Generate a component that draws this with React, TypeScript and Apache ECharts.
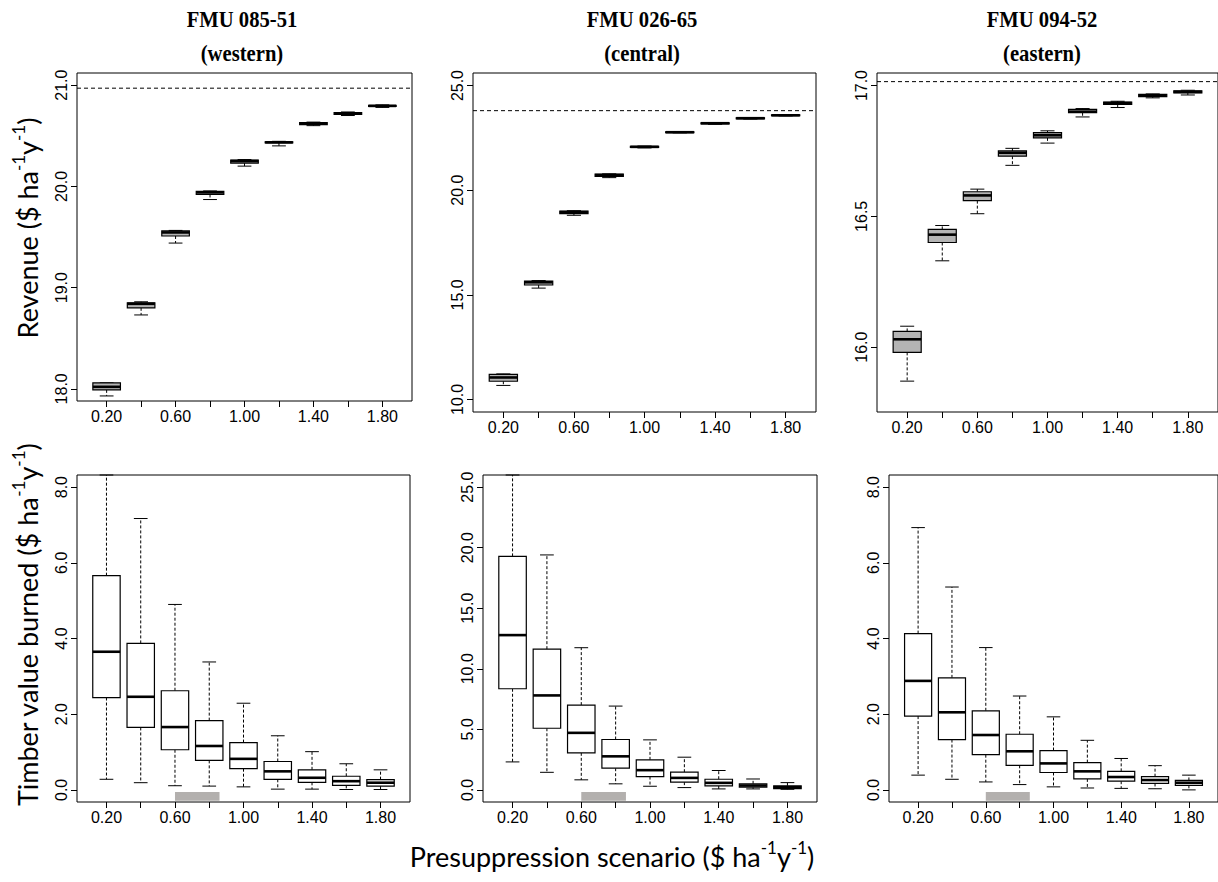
import React, { useEffect, useRef } from "react";
import * as echarts from "echarts";

// Presuppression scenarios ($ ha-1 y-1)
const scenarios = [0.2, 0.4, 0.6, 0.8, 1.0, 1.2, 1.4, 1.6, 1.8];
const xTickLabels = [0.2, 0.6, 1.0, 1.4, 1.8];

const columnTitles = ["FMU 085-51", "FMU 026-65", "FMU 094-52"];
const columnSubtitles = ["(western)", "(central)", "(eastern)"];

// Each row: [lower whisker, Q1, median, Q3, upper whisker]
const revenueWestern = [
  [17.93, 17.99, 18.02, 18.06, 18.06],
  [18.73, 18.8, 18.84, 18.85, 18.86],
  [19.44, 19.51, 19.545, 19.56, 19.565],
  [19.87, 19.92, 19.94, 19.95, 19.955],
  [20.2, 20.23, 20.25, 20.26, 20.265],
  [20.4, 20.43, 20.435, 20.44, 20.445],
  [20.6, 20.61, 20.62, 20.63, 20.635],
  [20.7, 20.71, 20.72, 20.73, 20.735],
  [20.78, 20.79, 20.795, 20.8, 20.805],
];
const revenueCentral = [
  [10.67, 10.87, 11.05, 11.2, 11.22],
  [15.32, 15.47, 15.6, 15.66, 15.68],
  [18.8, 18.88, 18.95, 19.0, 19.02],
  [20.6, 20.66, 20.72, 20.77, 20.78],
  [22.02, 22.04, 22.07, 22.1, 22.11],
  [22.74, 22.75, 22.77, 22.79, 22.8],
  [23.15, 23.17, 23.2, 23.22, 23.23],
  [23.4, 23.41, 23.44, 23.46, 23.47],
  [23.55, 23.56, 23.58, 23.6, 23.61],
];
const revenueEastern = [
  [15.87, 15.98, 16.03, 16.06, 16.08],
  [16.33, 16.4, 16.43, 16.45, 16.465],
  [16.51, 16.56, 16.58, 16.594, 16.604],
  [16.695, 16.73, 16.743, 16.75, 16.76],
  [16.78, 16.8, 16.81, 16.82, 16.827],
  [16.88, 16.896, 16.9, 16.909, 16.912],
  [16.916, 16.928, 16.933, 16.937, 16.94],
  [16.953, 16.958, 16.962, 16.966, 16.968],
  [16.964, 16.972, 16.976, 16.98, 16.982],
];
const burnedWestern = [
  [0.28, 2.44, 3.65, 5.66, 8.32],
  [0.19, 1.65, 2.46, 3.87, 7.17],
  [0.11, 1.06, 1.66, 2.62, 4.9],
  [0.1, 0.78, 1.16, 1.83, 3.38],
  [0.08, 0.56, 0.82, 1.25, 2.29],
  [0.02, 0.28, 0.49, 0.75, 1.43],
  [0.02, 0.2, 0.32, 0.53, 1.01],
  [0.01, 0.12, 0.23, 0.36, 0.69],
  [0.01, 0.1, 0.19, 0.27, 0.53],
];
const burnedCentral = [
  [2.31, 8.35, 12.78, 19.28, 26.0],
  [1.45, 5.09, 7.8, 11.62, 19.4],
  [0.83, 3.06, 4.71, 7.0, 11.74],
  [0.5, 1.79, 2.77, 4.16, 6.92],
  [0.3, 1.1, 1.63, 2.48, 4.13],
  [0.19, 0.64, 0.99, 1.46, 2.7],
  [0.08, 0.33, 0.58, 0.88, 1.6],
  [0.08, 0.22, 0.36, 0.5, 0.9],
  [0.05, 0.11, 0.22, 0.33, 0.6],
];
const burnedEastern = [
  [0.39, 1.95, 2.88, 4.13, 6.93],
  [0.28, 1.33, 2.05, 2.96, 5.36],
  [0.21, 0.93, 1.45, 2.09, 3.76],
  [0.14, 0.65, 1.02, 1.47, 2.48],
  [0.08, 0.46, 0.7, 1.04, 1.93],
  [0.05, 0.29, 0.49, 0.72, 1.31],
  [0.04, 0.23, 0.34, 0.49, 0.83],
  [0.03, 0.17, 0.26, 0.35, 0.64],
  [0.0, 0.12, 0.19, 0.25, 0.39],
];

// dashed reference (maximum revenue) lines
const revenueRefLines = [20.97, 23.8, 17.015];
// grey band marking current presuppression range (x from, x to)
const currentRange = [0.6, 0.86];

const revenueTicks = [
  [18, 19, 20, 21],
  [10, 15, 20, 25],
  [16.0, 16.5, 17.0],
];
const burnedTicks = [
  [0, 2, 4, 6, 8],
  [0, 5, 10, 15, 20, 25],
  [0, 2, 4, 6, 8],
];
const revenueRanges = [
  [17.88, 21.12],
  [9.4, 25.6],
  [15.752, 17.048],
];
const burnedRanges = [
  [-0.32, 8.32],
  [-1.0, 26.0],
  [-0.32, 8.32],
];

const X_MIN = 0.028;
const X_MAX = 1.972;

const panelsLayout = [
  { left: 77, top: 73, width: 335, height: 328 },
  { left: 473, top: 73, width: 343, height: 339 },
  { left: 877, top: 73, width: 345, height: 339 },
  { left: 77, top: 475, width: 333, height: 327 },
  { left: 483, top: 475, width: 334, height: 327 },
  { left: 889, top: 475, width: 336, height: 327 },
];

const TICK_FONT = "Liberation Sans, Arial, sans-serif";
const TITLE_FONT = "Lato, 'Open Sans', sans-serif";

function makeBoxRenderer(fill: string) {
  return (params: any, api: any) => {
    const x = api.value(0);
    const lw = api.value(1);
    const q1 = api.value(2);
    const med = api.value(3);
    const q3 = api.value(4);
    const uw = api.value(5);
    const pLw = api.coord([x, lw]);
    const pQ1 = api.coord([x, q1]);
    const pMed = api.coord([x, med]);
    const pQ3 = api.coord([x, q3]);
    const pUw = api.coord([x, uw]);
    const boxW = api.size([0.16, 0])[0];
    const half = boxW / 2;
    const capHalf = half / 2;
    const cx = pMed[0];
    const dashed = { stroke: "#000", lineWidth: 1, lineDash: [3, 2] };
    const solid = { stroke: "#000", lineWidth: 1 };
    return {
      type: "group",
      children: [
        { type: "line", shape: { x1: cx, y1: pQ1[1], x2: cx, y2: pLw[1] }, style: dashed },
        { type: "line", shape: { x1: cx, y1: pQ3[1], x2: cx, y2: pUw[1] }, style: dashed },
        { type: "line", shape: { x1: cx - capHalf, y1: pLw[1], x2: cx + capHalf, y2: pLw[1] }, style: solid },
        { type: "line", shape: { x1: cx - capHalf, y1: pUw[1], x2: cx + capHalf, y2: pUw[1] }, style: solid },
        {
          type: "rect",
          shape: { x: cx - half, y: pQ3[1], width: boxW, height: Math.max(pQ1[1] - pQ3[1], 0.5) },
          style: { fill, stroke: "#000", lineWidth: 1.2 },
        },
        {
          type: "line",
          shape: { x1: cx - half, y1: pMed[1], x2: cx + half, y2: pMed[1] },
          style: { stroke: "#000", lineWidth: 2.6 },
        },
      ],
    };
  };
}

function bandRenderer(params: any, api: any) {
  const p0 = api.coord([api.value(0), api.value(2)]);
  const p1 = api.coord([api.value(1), api.value(3)]);
  return {
    type: "rect",
    shape: { x: p0[0], y: p0[1], width: p1[0] - p0[0], height: p1[1] - p0[1] },
    style: { fill: "#b3b0ae" },
  };
}

function toRows(stats: number[][]) {
  return stats.map((s, i) => [scenarios[i], ...s]);
}

export default function App() {
  const ref = useRef<HTMLDivElement>(null);
  useEffect(() => {
    if (!ref.current) return;
    const chart = echarts.init(ref.current, null, { renderer: "svg" });

    const revenueSets = [revenueWestern, revenueCentral, revenueEastern];
    const burnedSets = [burnedWestern, burnedCentral, burnedEastern];

    const grids = panelsLayout.map((p) => ({
      left: p.left,
      top: p.top,
      width: p.width,
      height: p.height,
      show: true,
      borderColor: "#000",
      borderWidth: 1,
      backgroundColor: "transparent",
    }));

    const xAxes = panelsLayout.map((_, i) => ({
      type: "value",
      gridIndex: i,
      min: X_MIN,
      max: X_MAX,
      axisLine: { show: false, onZero: false },
      splitLine: { show: false },
      axisTick: {
        show: true,
        customValues: scenarios,
        length: 6,
        lineStyle: { color: "#000", width: 1 },
      },
      axisLabel: {
        show: true,
        customValues: xTickLabels,
        formatter: (v: number) => v.toFixed(2),
        fontSize: 16,
        color: "#000",
        fontFamily: TICK_FONT,
        margin: 7,
      },
    }));

    const yAxes = panelsLayout.map((_, i) => {
      const top = i < 3;
      const col = i % 3;
      const range = top ? revenueRanges[col] : burnedRanges[col];
      const ticks = top ? revenueTicks[col] : burnedTicks[col];
      return {
        type: "value",
        gridIndex: i,
        min: range[0],
        max: range[1],
        axisLine: { show: false, onZero: false },
        splitLine: { show: false },
        axisTick: {
          show: true,
          customValues: ticks,
          length: 6,
          lineStyle: { color: "#000", width: 1 },
        },
        axisLabel: {
          show: true,
          customValues: ticks,
          rotate: 90,
          formatter: (v: number) => v.toFixed(1),
          fontSize: 16,
          color: "#000",
          fontFamily: TICK_FONT,
          margin: 8,
        },
      };
    });

    const series: any[] = [];
    for (let c = 0; c < 3; c++) {
      series.push({
        type: "custom",
        xAxisIndex: c,
        yAxisIndex: c,
        renderItem: makeBoxRenderer("#b4b4b4"),
        encode: { x: 0, y: [1, 2, 3, 4, 5] },
        data: toRows(revenueSets[c]),
        z: 3,
      });
      series.push({
        type: "line",
        xAxisIndex: c,
        yAxisIndex: c,
        data: [
          [X_MIN, revenueRefLines[c]],
          [X_MAX, revenueRefLines[c]],
        ],
        showSymbol: false,
        symbol: "none",
        lineStyle: { color: "#000", width: 1, type: [4, 3] },
        z: 2,
      });
      const br = burnedRanges[c];
      const span = br[1] - br[0];
      series.push({
        type: "custom",
        xAxisIndex: c + 3,
        yAxisIndex: c + 3,
        renderItem: bandRenderer,
        encode: { x: [0, 1], y: [2, 3] },
        data: [[currentRange[0], currentRange[1], br[0] + span * 0.0305, br[0] + span * 0.0035]],
        z: 1,
      });
      series.push({
        type: "custom",
        xAxisIndex: c + 3,
        yAxisIndex: c + 3,
        renderItem: makeBoxRenderer("#ffffff"),
        encode: { x: 0, y: [1, 2, 3, 4, 5] },
        data: toRows(burnedSets[c]),
        z: 3,
      });
    }

    const titleCenters = [242, 642, 1042];
    const graphics: any[] = [];
    const titleStyle = {
      fontFamily: "Liberation Serif, 'Times New Roman', serif",
      fontWeight: "bold",
      fontSize: 24,
      fill: "#000",
      textAlign: "center",
      textVerticalAlign: "middle",
    };
    titleCenters.forEach((cx, i) => {
      graphics.push({
        type: "text",
        x: cx,
        y: 19,
        scaleX: 0.86,
        style: { ...titleStyle, text: columnTitles[i] },
      });
      graphics.push({
        type: "text",
        x: cx,
        y: 53,
        scaleX: 0.86,
        style: { ...titleStyle, text: columnSubtitles[i] },
      });
    });

    const rich = {
      n: { fontSize: 27, fontFamily: TITLE_FONT, fill: "#000", color: "#000", lineHeight: 34 },
      s: { fontSize: 17, fontFamily: TITLE_FONT, fill: "#000", color: "#000", verticalAlign: "top", lineHeight: 34 },
    };

    graphics.push({
      type: "text",
      x: 27,
      y: 228,
      rotation: Math.PI / 2,
      style: {
        text: "{n|Revenue ($ ha}{s|-1}{n|y}{s|-1}{n|)}",
        rich,
        textAlign: "center",
        textVerticalAlign: "middle",
      },
    });
    graphics.push({
      type: "text",
      x: 27,
      y: 625,
      rotation: Math.PI / 2,
      style: {
        text: "{n|Timber value burned ($ ha}{s|-1}{n|y}{s|-1}{n|)}",
        rich,
        textAlign: "center",
        textVerticalAlign: "middle",
      },
    });
    graphics.push({
      type: "text",
      x: 612,
      y: 856,
      style: {
        text: "{n|Presuppression scenario ($ ha}{s|-1}{n|y}{s|-1}{n|)}",
        rich,
        textAlign: "center",
        textVerticalAlign: "middle",
      },
    });

    chart.setOption({
      animation: false,
      backgroundColor: "#fff",
      grid: grids,
      xAxis: xAxes,
      yAxis: yAxes,
      series,
      graphic: graphics,
    } as any);

    return () => chart.dispose();
  }, []);

  return (
    <div
      ref={ref}
      style={{ position: "absolute", left: 0, top: 0, width: 1218, height: 882 }}
    />
  );
}
